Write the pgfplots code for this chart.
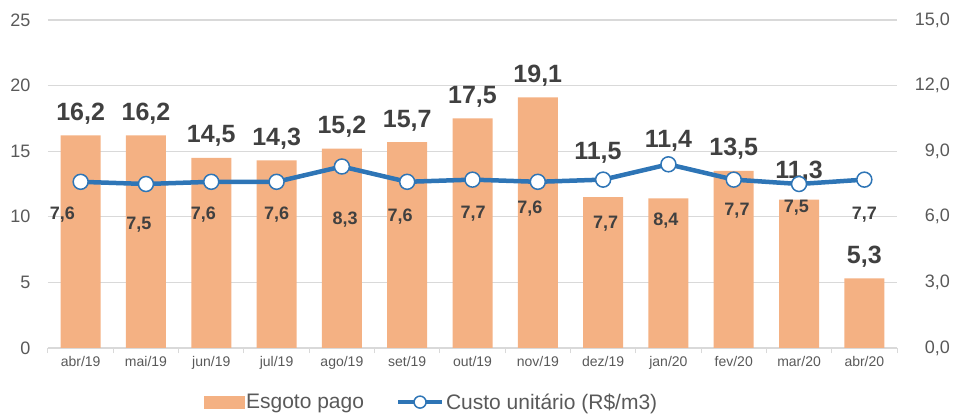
\documentclass[border=0pt]{standalone}
\usepackage{pgfplots}
\pgfplotsset{compat=1.18}
\usepackage{fontspec}
\setmainfont{Liberation Sans}

\definecolor{barfill}{HTML}{F4B183}
\definecolor{linecol}{HTML}{2E75B6}
\definecolor{lbl}{HTML}{404040}
\definecolor{tickc}{HTML}{595959}
\definecolor{gridc}{HTML}{D9D9D9}

\pgfplotsset{
  base/.style={
    scale only axis,
    width=849pt, height=328pt,
    xmin=-0.5, xmax=12.5,
    /pgf/number format/assume math mode=true,
  },
  barlegend/.style={legend image code/.code={\fill[barfill] (0pt,-6pt) rectangle (40pt,6pt);}},
  linelegend/.style={legend image code/.code={%
    \draw[mark repeat=2, mark phase=2, ##1, line width=4pt, mark size=6pt]
      plot coordinates {(0pt,0pt) (22pt,0pt) (44pt,0pt)};}},
  labelplot/.style={forget plot, draw=none, mark=none, point meta=explicit,
    nodes near coords={\pgfmathprintnumber[fixed,fixed zerofill,precision=1,use comma]{\pgfplotspointmeta}},
    every node near coord/.append style={text=lbl, anchor=base, inner sep=0pt}},
}

\begin{document}
\begin{tikzpicture}
% bars, left axis
\begin{axis}[
    base,
    ymin=0, ymax=25,
    ytick={0,5,10,15,20,25},
    xtick={0,...,12},
    xticklabels={abr/19,mai/19,jun/19,jul/19,ago/19,set/19,out/19,nov/19,dez/19,jan/20,fev/20,mar/20,abr/20},
    minor xtick={-0.5,0.5,...,12.5},
    major tick length=0pt,
    minor tick length=5pt,
    xtick align=outside,
    tick style={gridc, line width=1pt},
    axis x line*=bottom,
    axis y line*=left,
    x axis line style={gridc, line width=1.2pt, -},
    y axis line style={draw=none},
    ymajorgrids=true,
    grid style={gridc, line width=1.2pt},
    xticklabel style={font=\fontsize{14}{16}\selectfont, text=tickc, yshift=-5pt},
    yticklabel style={font=\fontsize{18}{20}\selectfont, text=tickc, xshift=-14pt},
    clip=false,
]
\addplot[ybar, bar width=40pt, fill=barfill, draw=none] coordinates {
  (0,16.2)(1,16.2)(2,14.5)(3,14.3)(4,15.2)(5,15.7)(6,17.5)(7,19.1)(8,11.5)(9,11.4)(10,13.5)(11,11.3)(12,5.3)
};
% labels of the bars
\addplot[labelplot, every node near coord/.append style={font=\bfseries\fontsize{25}{27}\selectfont, yshift=-9pt}]
  coordinates {
  (0,18.03)[16.2] (1,18.03)[16.2] (2,16.33)[14.5] (3,16.13)[14.3] (4,17.03)[15.2]
  (5,17.53)[15.7] (6,19.33)[17.5] (7,20.93)[19.1] (7.92,15.09)[11.5] (9,15.97)[11.4]
  (10,15.32)[13.5] (11,13.57)[11.3] (12,7.13)[5.3]
};
\path (rel axis cs:0,1) ++(-48pt,20pt) coordinate (bbtl);
\path (rel axis cs:1,0) ++(56pt,-66pt) coordinate (bbbr);
\end{axis}

% line, right axis
\begin{axis}[
    base,
    ymin=0, ymax=15,
    ytick={0,3,6,9,12,15},
    axis x line=none,
    axis y line*=right,
    y axis line style={draw=none},
    major tick length=0pt,
    yticklabel style={font=\fontsize{18}{20}\selectfont, text=tickc, anchor=east, inner sep=0pt, xshift=53pt,
      /pgf/number format/.cd, fixed, fixed zerofill, precision=1, use comma},
    legend style={at={(0.5,-0.165)}, anchor=center, xshift=-41pt, draw=none, fill=none,
      font=\fontsize{21}{23}\selectfont, text=tickc, legend columns=2,
      /tikz/every even column/.append style={column sep=30pt}},
]
\addlegendimage{barlegend}
\addlegendentry{Esgoto pago}

\addplot[linecol, line width=4.5pt, mark=*, mark size=7.5pt,
    mark options={fill=white, draw=linecol, line width=1.5pt},
    linelegend,
  ] coordinates {
  (0,7.6)(1,7.5)(2,7.6)(3,7.6)(4,8.3)(5,7.6)(6,7.7)(7,7.6)(8,7.7)(9,8.4)(10,7.7)(11,7.5)(12,7.7)
};
\addlegendentry{Custo unitário (R\$/m3)}

% labels of the line series
\addplot[labelplot, every node near coord/.append style={font=\bfseries\fontsize{18}{20}\selectfont, yshift=-6.5pt}]
  coordinates {
  (-0.28,6.17)[7.6] (0.89,5.72)[7.5] (1.88,6.17)[7.6] (3.0,6.17)[7.6] (4.05,5.94)[8.3]
  (4.89,6.1)[7.6] (6.01,6.22)[7.7] (6.88,6.45)[7.6] (8.04,5.76)[7.7] (8.96,5.9)[8.4]
  (10.05,6.36)[7.7] (10.96,6.5)[7.5] (12.0,6.17)[7.7]
};
\end{axis}
\path (bbtl) (bbbr);
\end{tikzpicture}
\end{document}
